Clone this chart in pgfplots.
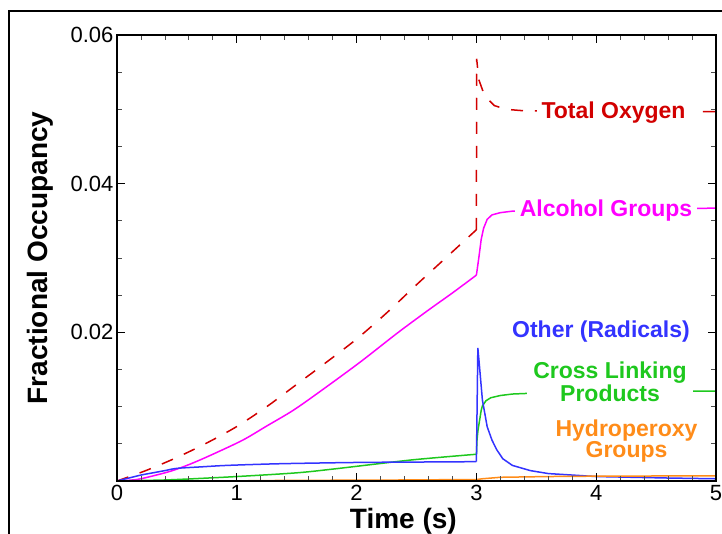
\documentclass[border=0pt]{standalone}
\usepackage{fontspec}
\setmainfont{Liberation Sans}
\usepackage{pgfplots}
\pgfplotsset{compat=1.18}
\definecolor{cred}{RGB}{210,0,0}
\definecolor{cmag}{RGB}{255,0,255}
\definecolor{cblue}{RGB}{51,51,255}
\definecolor{cgreen}{RGB}{30,200,30}
\definecolor{corange}{RGB}{255,140,25}
\begin{document}
\begin{tikzpicture}
\useasboundingbox (0,0) rectangle (722pt,533pt);
\draw[line width=2pt] (9pt,-2pt) -- (9pt,522pt) -- (724pt,522pt);
\begin{axis}[
  at={(117pt,52pt)}, anchor=south west,
  scale only axis, width=599pt, height=446pt,
  xmin=0, xmax=5, ymin=0, ymax=0.06,
  axis on top,
  axis line style={line width=2pt},
  scaled y ticks=false, scaled x ticks=false,
  xtick={0,1,2,3,4,5}, xticklabels={0,1,2,3,4,5},
  ytick={0,0.02,0.04,0.06}, yticklabels={,0.02,0.04,0.06},
  minor x tick num=4, minor y tick num=3,
  tick align=inside,
  major tick length=8pt, minor tick length=5pt,
  every major tick/.append style={line width=1.2pt, black},
  every minor tick/.append style={line width=0.8pt, black!70},
  tick label style={font=\fontsize{22}{22}\selectfont},
  xticklabel style={yshift=-1pt},
  xlabel={\bfseries Time (s)},
  ylabel={\bfseries Fractional Occupancy},
  label style={font=\fontsize{28}{28}\selectfont},
  xlabel style={at={(axis description cs:0.478,-0.1054)}, anchor=base},
  ylabel style={at={(axis description cs:-0.1152,0.5)}, anchor=base},
  every axis plot/.append style={line width=1.5pt},
]
% Total Oxygen
\addplot[cred, dash pattern=on 12pt off 12pt, smooth, tension=0.5] coordinates {
(0,0) (0.25,0.00146) (0.5,0.00317) (0.75,0.00512) (1.0,0.00733) (1.25,0.0100)
(1.5,0.0130) (1.75,0.0160) (2.0,0.0191) (2.25,0.0226) (2.5,0.0264) (2.75,0.0301)
(3.0,0.0338)};
\addplot[cred, dash pattern=on 12pt off 12pt] coordinates {
(3.0,0.0338) (3.002,0.0568) (3.02,0.0540) (3.06,0.0522) (3.1,0.0513) (3.15,0.0505)
(3.25,0.0500) (3.4,0.0498) (4.0,0.0497) (5.0,0.0497)};
% Alcohol Groups
\addplot[cmag, smooth, tension=0.5] coordinates {
(0,0) (0.1,0.0001) (0.2,0.0003) (0.4,0.0011) (0.5,0.0016) (0.63,0.0024) (0.8,0.0036)
(1.05,0.0055) (1.25,0.0074) (1.47,0.0095) (1.7,0.0121) (2.03,0.0160) (2.34,0.0199)
(2.6,0.0230) (2.8,0.0253) (3.0,0.0277)};
\addplot[cmag] coordinates {
(3.0,0.0277) (3.02,0.0300) (3.04,0.0325) (3.06,0.0340)
(3.09,0.0352) (3.13,0.0358) (3.2,0.0361) (3.3,0.0363) (4.0,0.0366) (5.0,0.0367)};
% Cross Linking Products
\addplot[cgreen, smooth, tension=0.5] coordinates {
(0,0) (0.3,0.0001) (0.5,0.0002) (1.0,0.0006) (1.5,0.0011) (1.8,0.0016) (2.17,0.0023)
(2.5,0.0029) (3.0,0.0036)};
\addplot[cgreen] coordinates {
(3.0,0.0036) (3.005,0.0055) (3.013,0.0068) (3.04,0.0095) (3.05,0.0101)
(3.08,0.0108) (3.12,0.0112) (3.2,0.0115) (3.3,0.0117) (3.45,0.0118) (4.0,0.0120) (5.0,0.0121)};
% Other (Radicals)
\addplot[cblue, smooth, tension=0.5] coordinates {
(0,0) (0.1,0.0004) (0.2,0.0008) (0.3,0.0011) (0.4,0.0014) (0.5,0.0017) (0.7,0.0019)
(0.92,0.0021) (1.3,0.0023) (1.61,0.0024) (2.03,0.0025) (2.5,0.00255) (3.0,0.0026)};
\addplot[cblue] coordinates {
(3.0,0.0026) (3.012,0.0179) (3.02,0.0165) (3.05,0.0109) (3.09,0.0073) (3.13,0.0055) (3.17,0.0042)
(3.22,0.0030) (3.3,0.0021) (3.45,0.0014) (3.6,0.0010) (3.8,0.0008) (4.0,0.0006)
(4.3,0.0005) (4.6,0.0004) (5.0,0.0003)};
% Hydroperoxy Groups
\addplot[corange] coordinates {
(0,0) (1.0,0.00002) (1.4,0.00008) (2.3,0.00013) (3.0,0.0002) (3.05,0.0003)
(3.2,0.0005) (3.6,0.0006) (4.0,0.00065) (5.0,0.0007)};
% labels
\node[fill=white, inner xsep=5pt, inner ysep=2pt, anchor=base, text=cred,
  font=\fontsize{23}{23}\selectfont\bfseries] at (axis cs:4.1444,0.04872) {Total Oxygen};
\node[fill=white, inner xsep=5pt, inner ysep=2pt, anchor=base, text=cmag,
  font=\fontsize{23}{23}\selectfont\bfseries] at (axis cs:4.0818,0.03557) {Alcohol Groups};
\node[fill=white, inner xsep=4pt, inner ysep=2pt, anchor=base, text=cblue,
  font=\fontsize{23}{23}\selectfont\bfseries] at (axis cs:4.0401,0.01937) {Other (Radicals)};
\node[fill=white, inner xsep=6pt, inner ysep=2pt, align=center, text=cgreen,
  font=\fontsize{23}{20}\selectfont\bfseries] at (axis cs:4.1152,0.01334) {Cross Linking\\Products};
\node[fill=white, inner xsep=4pt, inner ysep=2pt, align=center, text=corange,
  font=\fontsize{23}{20}\selectfont\bfseries] at (axis cs:4.2529,0.00537) {Hydroperoxy\\Groups};
\end{axis}
\end{tikzpicture}
\end{document}
